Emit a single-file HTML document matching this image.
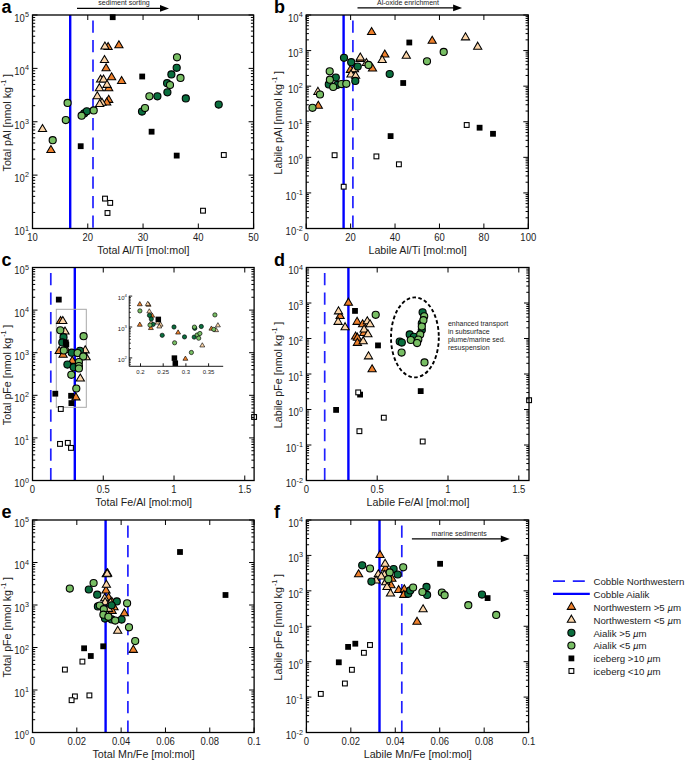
<!DOCTYPE html>
<html><head><meta charset="utf-8"><style>
html,body{margin:0;padding:0;background:#fff;}
svg{display:block;font-family:"Liberation Sans", sans-serif;}
text{fill:#1c1c1c;}
</style></head><body>
<svg width="685" height="760" viewBox="0 0 685 760">
<rect width="685" height="760" fill="#fff"/>
<line x1="70.2" y1="15" x2="70.2" y2="228.5" stroke="#0000FF" stroke-width="2.4"/>
<line x1="93.0" y1="20.4" x2="93.0" y2="228.5" stroke="#2020FF" stroke-width="1.7" stroke-dasharray="12.4 7.1"/>
<line x1="343.59999999999997" y1="15" x2="343.59999999999997" y2="228.5" stroke="#0000FF" stroke-width="2.4"/>
<line x1="352.9" y1="20.4" x2="352.9" y2="228.5" stroke="#2020FF" stroke-width="1.7" stroke-dasharray="12.4 7.1"/>
<line x1="74.80000000000001" y1="267.5" x2="74.80000000000001" y2="480.5" stroke="#0000FF" stroke-width="2.4"/>
<line x1="50.8" y1="272.9" x2="50.8" y2="480.5" stroke="#2020FF" stroke-width="1.7" stroke-dasharray="12.4 7.1"/>
<line x1="348.4" y1="267.5" x2="348.4" y2="480.5" stroke="#0000FF" stroke-width="2.4"/>
<line x1="324.7" y1="272.9" x2="324.7" y2="480.5" stroke="#2020FF" stroke-width="1.7" stroke-dasharray="12.4 7.1"/>
<line x1="105.60000000000001" y1="520" x2="105.60000000000001" y2="732.5" stroke="#0000FF" stroke-width="2.4"/>
<line x1="127.9" y1="525.4" x2="127.9" y2="732.5" stroke="#2020FF" stroke-width="1.7" stroke-dasharray="12.4 7.1"/>
<line x1="379.5" y1="520" x2="379.5" y2="732.5" stroke="#0000FF" stroke-width="2.4"/>
<line x1="401.8" y1="525.4" x2="401.8" y2="732.5" stroke="#2020FF" stroke-width="1.7" stroke-dasharray="12.4 7.1"/>
<rect x="56.3" y="309.3" width="30" height="98" fill="none" stroke="#A8A8A8" stroke-width="1"/>
<path d="M108.10 42.55L112.20 49.55L104.00 49.55Z" fill="#EE802C" stroke="#000" stroke-width="1.05" stroke-linejoin="miter"/>
<path d="M118.90 40.80L123.00 47.80L114.80 47.80Z" fill="#EE802C" stroke="#000" stroke-width="1.05" stroke-linejoin="miter"/>
<path d="M106.10 63.75L110.20 70.75L102.00 70.75Z" fill="#EE802C" stroke="#000" stroke-width="1.05" stroke-linejoin="miter"/>
<path d="M111.60 72.75L115.70 79.75L107.50 79.75Z" fill="#EE802C" stroke="#000" stroke-width="1.05" stroke-linejoin="miter"/>
<path d="M121.60 76.55L125.70 83.55L117.50 83.55Z" fill="#EE802C" stroke="#000" stroke-width="1.05" stroke-linejoin="miter"/>
<path d="M108.70 83.65L112.80 90.65L104.60 90.65Z" fill="#EE802C" stroke="#000" stroke-width="1.05" stroke-linejoin="miter"/>
<path d="M108.70 95.35L112.80 102.35L104.60 102.35Z" fill="#EE802C" stroke="#000" stroke-width="1.05" stroke-linejoin="miter"/>
<path d="M106.70 97.95L110.80 104.95L102.60 104.95Z" fill="#EE802C" stroke="#000" stroke-width="1.05" stroke-linejoin="miter"/>
<path d="M50.90 145.55L55.00 152.55L46.80 152.55Z" fill="#EE802C" stroke="#000" stroke-width="1.05" stroke-linejoin="miter"/>
<path d="M104.90 41.95L109.00 48.95L100.80 48.95Z" fill="#FCD5A8" stroke="#000" stroke-width="1.05" stroke-linejoin="miter"/>
<path d="M104.50 55.55L108.60 62.55L100.40 62.55Z" fill="#FCD5A8" stroke="#000" stroke-width="1.05" stroke-linejoin="miter"/>
<path d="M100.60 74.95L104.70 81.95L96.50 81.95Z" fill="#FCD5A8" stroke="#000" stroke-width="1.05" stroke-linejoin="miter"/>
<path d="M103.50 74.95L107.60 81.95L99.40 81.95Z" fill="#FCD5A8" stroke="#000" stroke-width="1.05" stroke-linejoin="miter"/>
<path d="M107.00 80.35L111.10 87.35L102.90 87.35Z" fill="#FCD5A8" stroke="#000" stroke-width="1.05" stroke-linejoin="miter"/>
<path d="M99.40 83.65L103.50 90.65L95.30 90.65Z" fill="#FCD5A8" stroke="#000" stroke-width="1.05" stroke-linejoin="miter"/>
<path d="M97.30 91.75L101.40 98.75L93.20 98.75Z" fill="#FCD5A8" stroke="#000" stroke-width="1.05" stroke-linejoin="miter"/>
<path d="M102.00 98.25L106.10 105.25L97.90 105.25Z" fill="#FCD5A8" stroke="#000" stroke-width="1.05" stroke-linejoin="miter"/>
<path d="M99.70 99.45L103.80 106.45L95.60 106.45Z" fill="#FCD5A8" stroke="#000" stroke-width="1.05" stroke-linejoin="miter"/>
<path d="M42.50 124.55L46.60 131.55L38.40 131.55Z" fill="#FCD5A8" stroke="#000" stroke-width="1.05" stroke-linejoin="miter"/>
<circle cx="176.70" cy="67.80" r="3.55" fill="#0A6E3E" stroke="#000" stroke-width="1.10"/>
<circle cx="171.40" cy="74.40" r="3.55" fill="#0A6E3E" stroke="#000" stroke-width="1.10"/>
<circle cx="167.10" cy="83.20" r="3.55" fill="#0A6E3E" stroke="#000" stroke-width="1.10"/>
<circle cx="167.40" cy="92.30" r="3.55" fill="#0A6E3E" stroke="#000" stroke-width="1.10"/>
<circle cx="157.40" cy="96.30" r="3.55" fill="#0A6E3E" stroke="#000" stroke-width="1.10"/>
<circle cx="185.80" cy="98.40" r="3.55" fill="#0A6E3E" stroke="#000" stroke-width="1.10"/>
<circle cx="218.70" cy="104.60" r="3.55" fill="#0A6E3E" stroke="#000" stroke-width="1.10"/>
<circle cx="142.00" cy="111.60" r="3.55" fill="#0A6E3E" stroke="#000" stroke-width="1.10"/>
<circle cx="84.20" cy="113.40" r="3.55" fill="#0A6E3E" stroke="#000" stroke-width="1.10"/>
<circle cx="86.80" cy="111.30" r="3.55" fill="#0A6E3E" stroke="#000" stroke-width="1.10"/>
<circle cx="177.00" cy="57.30" r="3.55" fill="#78BE64" stroke="#000" stroke-width="1.10"/>
<circle cx="180.50" cy="77.90" r="3.55" fill="#78BE64" stroke="#000" stroke-width="1.10"/>
<circle cx="170.00" cy="85.00" r="3.55" fill="#78BE64" stroke="#000" stroke-width="1.10"/>
<circle cx="149.40" cy="96.30" r="3.55" fill="#78BE64" stroke="#000" stroke-width="1.10"/>
<circle cx="145.00" cy="108.10" r="3.55" fill="#78BE64" stroke="#000" stroke-width="1.10"/>
<circle cx="67.60" cy="102.90" r="3.55" fill="#78BE64" stroke="#000" stroke-width="1.10"/>
<circle cx="65.80" cy="120.10" r="3.55" fill="#78BE64" stroke="#000" stroke-width="1.10"/>
<circle cx="81.60" cy="115.70" r="3.55" fill="#78BE64" stroke="#000" stroke-width="1.10"/>
<circle cx="93.70" cy="110.40" r="3.55" fill="#78BE64" stroke="#000" stroke-width="1.10"/>
<circle cx="52.70" cy="140.20" r="3.55" fill="#78BE64" stroke="#000" stroke-width="1.10"/>
<rect x="109.80" y="14.30" width="5.80" height="5.80" fill="#000"/>
<rect x="139.30" y="73.60" width="5.80" height="5.80" fill="#000"/>
<rect x="148.70" y="128.80" width="5.80" height="5.80" fill="#000"/>
<rect x="173.80" y="152.70" width="5.80" height="5.80" fill="#000"/>
<rect x="77.80" y="143.30" width="5.80" height="5.80" fill="#000"/>
<rect x="221.40" y="152.60" width="4.80" height="4.80" fill="#fff" stroke="#000" stroke-width="1.10"/>
<rect x="200.60" y="208.30" width="4.80" height="4.80" fill="#fff" stroke="#000" stroke-width="1.10"/>
<rect x="102.60" y="196.20" width="4.80" height="4.80" fill="#fff" stroke="#000" stroke-width="1.10"/>
<rect x="107.80" y="200.50" width="4.80" height="4.80" fill="#fff" stroke="#000" stroke-width="1.10"/>
<rect x="105.10" y="210.60" width="4.80" height="4.80" fill="#fff" stroke="#000" stroke-width="1.10"/>
<path d="M371.60 27.55L375.70 34.55L367.50 34.55Z" fill="#EE802C" stroke="#000" stroke-width="1.05" stroke-linejoin="miter"/>
<path d="M432.20 36.25L436.30 43.25L428.10 43.25Z" fill="#EE802C" stroke="#000" stroke-width="1.05" stroke-linejoin="miter"/>
<path d="M384.80 49.95L388.90 56.95L380.70 56.95Z" fill="#EE802C" stroke="#000" stroke-width="1.05" stroke-linejoin="miter"/>
<path d="M360.10 54.35L364.20 61.35L356.00 61.35Z" fill="#EE802C" stroke="#000" stroke-width="1.05" stroke-linejoin="miter"/>
<path d="M350.40 65.35L354.50 72.35L346.30 72.35Z" fill="#EE802C" stroke="#000" stroke-width="1.05" stroke-linejoin="miter"/>
<path d="M372.50 63.95L376.60 70.95L368.40 70.95Z" fill="#EE802C" stroke="#000" stroke-width="1.05" stroke-linejoin="miter"/>
<path d="M318.30 101.25L322.40 108.25L314.20 108.25Z" fill="#EE802C" stroke="#000" stroke-width="1.05" stroke-linejoin="miter"/>
<path d="M465.50 32.85L469.60 39.85L461.40 39.85Z" fill="#FCD5A8" stroke="#000" stroke-width="1.05" stroke-linejoin="miter"/>
<path d="M477.70 42.15L481.80 49.15L473.60 49.15Z" fill="#FCD5A8" stroke="#000" stroke-width="1.05" stroke-linejoin="miter"/>
<path d="M406.30 51.15L410.40 58.15L402.20 58.15Z" fill="#FCD5A8" stroke="#000" stroke-width="1.05" stroke-linejoin="miter"/>
<path d="M382.20 55.55L386.30 62.55L378.10 62.55Z" fill="#FCD5A8" stroke="#000" stroke-width="1.05" stroke-linejoin="miter"/>
<path d="M360.30 53.05L364.40 60.05L356.20 60.05Z" fill="#FCD5A8" stroke="#000" stroke-width="1.05" stroke-linejoin="miter"/>
<path d="M366.40 58.55L370.50 65.55L362.30 65.55Z" fill="#FCD5A8" stroke="#000" stroke-width="1.05" stroke-linejoin="miter"/>
<path d="M354.50 64.75L358.60 71.75L350.40 71.75Z" fill="#FCD5A8" stroke="#000" stroke-width="1.05" stroke-linejoin="miter"/>
<path d="M351.00 70.05L355.10 77.05L346.90 77.05Z" fill="#FCD5A8" stroke="#000" stroke-width="1.05" stroke-linejoin="miter"/>
<path d="M355.60 71.25L359.70 78.25L351.50 78.25Z" fill="#FCD5A8" stroke="#000" stroke-width="1.05" stroke-linejoin="miter"/>
<path d="M317.90 87.35L322.00 94.35L313.80 94.35Z" fill="#FCD5A8" stroke="#000" stroke-width="1.05" stroke-linejoin="miter"/>
<circle cx="344.00" cy="57.80" r="3.55" fill="#0A6E3E" stroke="#000" stroke-width="1.10"/>
<circle cx="351.20" cy="62.20" r="3.55" fill="#0A6E3E" stroke="#000" stroke-width="1.10"/>
<circle cx="357.70" cy="66.60" r="3.55" fill="#0A6E3E" stroke="#000" stroke-width="1.10"/>
<circle cx="355.30" cy="80.90" r="3.55" fill="#0A6E3E" stroke="#000" stroke-width="1.10"/>
<circle cx="335.80" cy="77.60" r="3.55" fill="#0A6E3E" stroke="#000" stroke-width="1.10"/>
<circle cx="328.80" cy="84.40" r="3.55" fill="#0A6E3E" stroke="#000" stroke-width="1.10"/>
<circle cx="337.00" cy="85.00" r="3.55" fill="#0A6E3E" stroke="#000" stroke-width="1.10"/>
<circle cx="389.70" cy="74.00" r="3.55" fill="#0A6E3E" stroke="#000" stroke-width="1.10"/>
<circle cx="329.70" cy="71.30" r="3.55" fill="#78BE64" stroke="#000" stroke-width="1.10"/>
<circle cx="329.90" cy="79.70" r="3.55" fill="#78BE64" stroke="#000" stroke-width="1.10"/>
<circle cx="333.20" cy="87.00" r="3.55" fill="#78BE64" stroke="#000" stroke-width="1.10"/>
<circle cx="341.40" cy="84.10" r="3.55" fill="#78BE64" stroke="#000" stroke-width="1.10"/>
<circle cx="346.30" cy="83.80" r="3.55" fill="#78BE64" stroke="#000" stroke-width="1.10"/>
<circle cx="320.00" cy="94.50" r="3.55" fill="#78BE64" stroke="#000" stroke-width="1.10"/>
<circle cx="312.50" cy="107.80" r="3.55" fill="#78BE64" stroke="#000" stroke-width="1.10"/>
<circle cx="368.50" cy="64.90" r="3.55" fill="#78BE64" stroke="#000" stroke-width="1.10"/>
<circle cx="443.70" cy="51.90" r="3.55" fill="#78BE64" stroke="#000" stroke-width="1.10"/>
<circle cx="427.00" cy="61.30" r="3.55" fill="#78BE64" stroke="#000" stroke-width="1.10"/>
<rect x="406.40" y="39.60" width="5.80" height="5.80" fill="#000"/>
<rect x="400.30" y="80.10" width="5.80" height="5.80" fill="#000"/>
<rect x="387.70" y="133.20" width="5.80" height="5.80" fill="#000"/>
<rect x="476.70" y="124.80" width="5.80" height="5.80" fill="#000"/>
<rect x="490.10" y="130.90" width="5.80" height="5.80" fill="#000"/>
<rect x="464.30" y="122.60" width="4.80" height="4.80" fill="#fff" stroke="#000" stroke-width="1.10"/>
<rect x="332.20" y="152.80" width="4.80" height="4.80" fill="#fff" stroke="#000" stroke-width="1.10"/>
<rect x="374.00" y="154.00" width="4.80" height="4.80" fill="#fff" stroke="#000" stroke-width="1.10"/>
<rect x="396.50" y="161.90" width="4.80" height="4.80" fill="#fff" stroke="#000" stroke-width="1.10"/>
<rect x="341.30" y="184.30" width="4.80" height="4.80" fill="#fff" stroke="#000" stroke-width="1.10"/>
<path d="M60.60 316.55L64.70 323.55L56.50 323.55Z" fill="#EE802C" stroke="#000" stroke-width="1.05" stroke-linejoin="miter"/>
<path d="M59.20 346.55L63.30 353.55L55.10 353.55Z" fill="#EE802C" stroke="#000" stroke-width="1.05" stroke-linejoin="miter"/>
<path d="M63.10 350.15L67.20 357.15L59.00 357.15Z" fill="#EE802C" stroke="#000" stroke-width="1.05" stroke-linejoin="miter"/>
<path d="M72.30 356.35L76.40 363.35L68.20 363.35Z" fill="#EE802C" stroke="#000" stroke-width="1.05" stroke-linejoin="miter"/>
<path d="M75.90 392.85L80.00 399.85L71.80 399.85Z" fill="#EE802C" stroke="#000" stroke-width="1.05" stroke-linejoin="miter"/>
<path d="M62.80 316.55L66.90 323.55L58.70 323.55Z" fill="#FCD5A8" stroke="#000" stroke-width="1.05" stroke-linejoin="miter"/>
<path d="M65.00 327.05L69.10 334.05L60.90 334.05Z" fill="#FCD5A8" stroke="#000" stroke-width="1.05" stroke-linejoin="miter"/>
<path d="M66.40 345.55L70.50 352.55L62.30 352.55Z" fill="#FCD5A8" stroke="#000" stroke-width="1.05" stroke-linejoin="miter"/>
<path d="M85.20 345.85L89.30 352.85L81.10 352.85Z" fill="#FCD5A8" stroke="#000" stroke-width="1.05" stroke-linejoin="miter"/>
<path d="M86.10 352.75L90.20 359.75L82.00 359.75Z" fill="#FCD5A8" stroke="#000" stroke-width="1.05" stroke-linejoin="miter"/>
<path d="M80.30 374.05L84.40 381.05L76.20 381.05Z" fill="#FCD5A8" stroke="#000" stroke-width="1.05" stroke-linejoin="miter"/>
<circle cx="63.50" cy="337.20" r="3.55" fill="#0A6E3E" stroke="#000" stroke-width="1.10"/>
<circle cx="62.30" cy="342.40" r="3.55" fill="#0A6E3E" stroke="#000" stroke-width="1.10"/>
<circle cx="79.90" cy="350.80" r="3.55" fill="#0A6E3E" stroke="#000" stroke-width="1.10"/>
<circle cx="71.70" cy="352.70" r="3.55" fill="#0A6E3E" stroke="#000" stroke-width="1.10"/>
<circle cx="67.40" cy="364.60" r="3.55" fill="#0A6E3E" stroke="#000" stroke-width="1.10"/>
<circle cx="73.70" cy="367.20" r="3.55" fill="#0A6E3E" stroke="#000" stroke-width="1.10"/>
<circle cx="60.30" cy="330.30" r="3.55" fill="#78BE64" stroke="#000" stroke-width="1.10"/>
<circle cx="63.80" cy="350.40" r="3.55" fill="#78BE64" stroke="#000" stroke-width="1.10"/>
<circle cx="77.60" cy="353.10" r="3.55" fill="#78BE64" stroke="#000" stroke-width="1.10"/>
<circle cx="83.20" cy="356.40" r="3.55" fill="#78BE64" stroke="#000" stroke-width="1.10"/>
<circle cx="83.60" cy="336.20" r="3.55" fill="#78BE64" stroke="#000" stroke-width="1.10"/>
<circle cx="78.90" cy="362.00" r="3.55" fill="#78BE64" stroke="#000" stroke-width="1.10"/>
<circle cx="78.90" cy="366.00" r="3.55" fill="#78BE64" stroke="#000" stroke-width="1.10"/>
<circle cx="78.90" cy="368.50" r="3.55" fill="#78BE64" stroke="#000" stroke-width="1.10"/>
<circle cx="71.30" cy="374.80" r="3.55" fill="#78BE64" stroke="#000" stroke-width="1.10"/>
<circle cx="76.30" cy="388.50" r="3.55" fill="#78BE64" stroke="#000" stroke-width="1.10"/>
<rect x="55.90" y="296.70" width="5.80" height="5.80" fill="#000"/>
<rect x="62.90" y="339.50" width="5.80" height="5.80" fill="#000"/>
<rect x="63.40" y="341.60" width="5.80" height="5.80" fill="#000"/>
<rect x="52.40" y="390.80" width="5.80" height="5.80" fill="#000"/>
<rect x="68.20" y="392.90" width="5.80" height="5.80" fill="#000"/>
<rect x="68.50" y="400.20" width="5.80" height="5.80" fill="#000"/>
<rect x="58.40" y="406.60" width="4.80" height="4.80" fill="#fff" stroke="#000" stroke-width="1.10"/>
<rect x="57.60" y="441.50" width="4.80" height="4.80" fill="#fff" stroke="#000" stroke-width="1.10"/>
<rect x="65.40" y="440.50" width="4.80" height="4.80" fill="#fff" stroke="#000" stroke-width="1.10"/>
<rect x="68.60" y="445.50" width="4.80" height="4.80" fill="#fff" stroke="#000" stroke-width="1.10"/>
<rect x="251.70" y="414.60" width="4.80" height="4.80" fill="#fff" stroke="#000" stroke-width="1.10"/>
<path d="M348.40 298.15L352.50 305.15L344.30 305.15Z" fill="#EE802C" stroke="#000" stroke-width="1.05" stroke-linejoin="miter"/>
<path d="M340.10 311.55L344.20 318.55L336.00 318.55Z" fill="#EE802C" stroke="#000" stroke-width="1.05" stroke-linejoin="miter"/>
<path d="M357.10 317.35L361.20 324.35L353.00 324.35Z" fill="#EE802C" stroke="#000" stroke-width="1.05" stroke-linejoin="miter"/>
<path d="M362.60 319.75L366.70 326.75L358.50 326.75Z" fill="#EE802C" stroke="#000" stroke-width="1.05" stroke-linejoin="miter"/>
<path d="M363.80 328.45L367.90 335.45L359.70 335.45Z" fill="#EE802C" stroke="#000" stroke-width="1.05" stroke-linejoin="miter"/>
<path d="M355.60 331.95L359.70 338.95L351.50 338.95Z" fill="#EE802C" stroke="#000" stroke-width="1.05" stroke-linejoin="miter"/>
<path d="M357.40 333.15L361.50 340.15L353.30 340.15Z" fill="#EE802C" stroke="#000" stroke-width="1.05" stroke-linejoin="miter"/>
<path d="M357.40 338.35L361.50 345.35L353.30 345.35Z" fill="#EE802C" stroke="#000" stroke-width="1.05" stroke-linejoin="miter"/>
<path d="M372.10 364.75L376.20 371.75L368.00 371.75Z" fill="#EE802C" stroke="#000" stroke-width="1.05" stroke-linejoin="miter"/>
<path d="M338.50 306.85L342.60 313.85L334.40 313.85Z" fill="#FCD5A8" stroke="#000" stroke-width="1.05" stroke-linejoin="miter"/>
<path d="M338.10 317.35L342.20 324.35L334.00 324.35Z" fill="#FCD5A8" stroke="#000" stroke-width="1.05" stroke-linejoin="miter"/>
<path d="M345.10 322.65L349.20 329.65L341.00 329.65Z" fill="#FCD5A8" stroke="#000" stroke-width="1.05" stroke-linejoin="miter"/>
<path d="M367.30 316.75L371.40 323.75L363.20 323.75Z" fill="#FCD5A8" stroke="#000" stroke-width="1.05" stroke-linejoin="miter"/>
<path d="M370.00 319.75L374.10 326.75L365.90 326.75Z" fill="#FCD5A8" stroke="#000" stroke-width="1.05" stroke-linejoin="miter"/>
<path d="M364.10 324.95L368.20 331.95L360.00 331.95Z" fill="#FCD5A8" stroke="#000" stroke-width="1.05" stroke-linejoin="miter"/>
<path d="M367.90 329.65L372.00 336.65L363.80 336.65Z" fill="#FCD5A8" stroke="#000" stroke-width="1.05" stroke-linejoin="miter"/>
<path d="M363.20 336.65L367.30 343.65L359.10 343.65Z" fill="#FCD5A8" stroke="#000" stroke-width="1.05" stroke-linejoin="miter"/>
<path d="M368.50 351.85L372.60 358.85L364.40 358.85Z" fill="#FCD5A8" stroke="#000" stroke-width="1.05" stroke-linejoin="miter"/>
<circle cx="422.60" cy="312.30" r="3.55" fill="#0A6E3E" stroke="#000" stroke-width="1.10"/>
<circle cx="421.80" cy="323.40" r="3.55" fill="#0A6E3E" stroke="#000" stroke-width="1.10"/>
<circle cx="421.80" cy="330.00" r="3.55" fill="#0A6E3E" stroke="#000" stroke-width="1.10"/>
<circle cx="409.70" cy="334.40" r="3.55" fill="#0A6E3E" stroke="#000" stroke-width="1.10"/>
<circle cx="413.90" cy="336.80" r="3.55" fill="#0A6E3E" stroke="#000" stroke-width="1.10"/>
<circle cx="399.70" cy="341.50" r="3.55" fill="#0A6E3E" stroke="#000" stroke-width="1.10"/>
<circle cx="401.80" cy="342.60" r="3.55" fill="#0A6E3E" stroke="#000" stroke-width="1.10"/>
<circle cx="375.70" cy="314.80" r="3.55" fill="#78BE64" stroke="#000" stroke-width="1.10"/>
<circle cx="424.20" cy="316.30" r="3.55" fill="#78BE64" stroke="#000" stroke-width="1.10"/>
<circle cx="423.40" cy="320.20" r="3.55" fill="#78BE64" stroke="#000" stroke-width="1.10"/>
<circle cx="421.80" cy="326.50" r="3.55" fill="#78BE64" stroke="#000" stroke-width="1.10"/>
<circle cx="420.20" cy="334.40" r="3.55" fill="#78BE64" stroke="#000" stroke-width="1.10"/>
<circle cx="410.80" cy="340.00" r="3.55" fill="#78BE64" stroke="#000" stroke-width="1.10"/>
<circle cx="418.30" cy="339.50" r="3.55" fill="#78BE64" stroke="#000" stroke-width="1.10"/>
<circle cx="417.10" cy="343.10" r="3.55" fill="#78BE64" stroke="#000" stroke-width="1.10"/>
<circle cx="401.60" cy="352.60" r="3.55" fill="#78BE64" stroke="#000" stroke-width="1.10"/>
<circle cx="424.50" cy="362.40" r="3.55" fill="#78BE64" stroke="#000" stroke-width="1.10"/>
<rect x="352.10" y="308.00" width="5.80" height="5.80" fill="#000"/>
<rect x="375.10" y="342.50" width="5.80" height="5.80" fill="#000"/>
<rect x="357.20" y="391.70" width="5.80" height="5.80" fill="#000"/>
<rect x="333.20" y="407.00" width="5.80" height="5.80" fill="#000"/>
<rect x="417.80" y="388.20" width="5.80" height="5.80" fill="#000"/>
<rect x="355.80" y="390.00" width="4.80" height="4.80" fill="#fff" stroke="#000" stroke-width="1.10"/>
<rect x="381.40" y="415.30" width="4.80" height="4.80" fill="#fff" stroke="#000" stroke-width="1.10"/>
<rect x="357.00" y="428.80" width="4.80" height="4.80" fill="#fff" stroke="#000" stroke-width="1.10"/>
<rect x="420.30" y="439.10" width="4.80" height="4.80" fill="#fff" stroke="#000" stroke-width="1.10"/>
<rect x="526.70" y="397.80" width="4.80" height="4.80" fill="#fff" stroke="#000" stroke-width="1.10"/>
<path d="M106.60 569.75L110.70 576.75L102.50 576.75Z" fill="#EE802C" stroke="#000" stroke-width="1.05" stroke-linejoin="miter"/>
<path d="M106.00 585.95L110.10 592.95L101.90 592.95Z" fill="#EE802C" stroke="#000" stroke-width="1.05" stroke-linejoin="miter"/>
<path d="M108.60 592.95L112.70 599.95L104.50 599.95Z" fill="#EE802C" stroke="#000" stroke-width="1.05" stroke-linejoin="miter"/>
<path d="M111.80 597.35L115.90 604.35L107.70 604.35Z" fill="#EE802C" stroke="#000" stroke-width="1.05" stroke-linejoin="miter"/>
<path d="M114.00 602.75L118.10 609.75L109.90 609.75Z" fill="#EE802C" stroke="#000" stroke-width="1.05" stroke-linejoin="miter"/>
<path d="M112.10 606.35L116.20 613.35L108.00 613.35Z" fill="#EE802C" stroke="#000" stroke-width="1.05" stroke-linejoin="miter"/>
<path d="M124.40 608.75L128.50 615.75L120.30 615.75Z" fill="#EE802C" stroke="#000" stroke-width="1.05" stroke-linejoin="miter"/>
<path d="M133.30 645.35L137.40 652.35L129.20 652.35Z" fill="#EE802C" stroke="#000" stroke-width="1.05" stroke-linejoin="miter"/>
<path d="M107.60 568.85L111.70 575.85L103.50 575.85Z" fill="#FCD5A8" stroke="#000" stroke-width="1.05" stroke-linejoin="miter"/>
<path d="M106.40 569.45L110.50 576.45L102.30 576.45Z" fill="#FCD5A8" stroke="#000" stroke-width="1.05" stroke-linejoin="miter"/>
<path d="M107.20 569.15L111.30 576.15L103.10 576.15Z" fill="#FCD5A8" stroke="#000" stroke-width="1.05" stroke-linejoin="miter"/>
<path d="M106.40 580.25L110.50 587.25L102.30 587.25Z" fill="#FCD5A8" stroke="#000" stroke-width="1.05" stroke-linejoin="miter"/>
<path d="M104.70 593.75L108.80 600.75L100.60 600.75Z" fill="#FCD5A8" stroke="#000" stroke-width="1.05" stroke-linejoin="miter"/>
<path d="M105.10 597.65L109.20 604.65L101.00 604.65Z" fill="#FCD5A8" stroke="#000" stroke-width="1.05" stroke-linejoin="miter"/>
<path d="M110.50 598.25L114.60 605.25L106.40 605.25Z" fill="#FCD5A8" stroke="#000" stroke-width="1.05" stroke-linejoin="miter"/>
<path d="M108.50 604.35L112.60 611.35L104.40 611.35Z" fill="#FCD5A8" stroke="#000" stroke-width="1.05" stroke-linejoin="miter"/>
<path d="M117.70 626.25L121.80 633.25L113.60 633.25Z" fill="#FCD5A8" stroke="#000" stroke-width="1.05" stroke-linejoin="miter"/>
<circle cx="88.80" cy="589.50" r="3.55" fill="#0A6E3E" stroke="#000" stroke-width="1.10"/>
<circle cx="97.20" cy="594.70" r="3.55" fill="#0A6E3E" stroke="#000" stroke-width="1.10"/>
<circle cx="116.80" cy="601.40" r="3.55" fill="#0A6E3E" stroke="#000" stroke-width="1.10"/>
<circle cx="97.90" cy="606.40" r="3.55" fill="#0A6E3E" stroke="#000" stroke-width="1.10"/>
<circle cx="111.60" cy="605.30" r="3.55" fill="#0A6E3E" stroke="#000" stroke-width="1.10"/>
<circle cx="105.00" cy="618.60" r="3.55" fill="#0A6E3E" stroke="#000" stroke-width="1.10"/>
<circle cx="111.70" cy="619.40" r="3.55" fill="#0A6E3E" stroke="#000" stroke-width="1.10"/>
<circle cx="121.60" cy="619.60" r="3.55" fill="#0A6E3E" stroke="#000" stroke-width="1.10"/>
<circle cx="93.60" cy="583.00" r="3.55" fill="#78BE64" stroke="#000" stroke-width="1.10"/>
<circle cx="69.80" cy="588.60" r="3.55" fill="#78BE64" stroke="#000" stroke-width="1.10"/>
<circle cx="99.80" cy="605.60" r="3.55" fill="#78BE64" stroke="#000" stroke-width="1.10"/>
<circle cx="103.80" cy="609.20" r="3.55" fill="#78BE64" stroke="#000" stroke-width="1.10"/>
<circle cx="103.40" cy="614.70" r="3.55" fill="#78BE64" stroke="#000" stroke-width="1.10"/>
<circle cx="108.40" cy="616.70" r="3.55" fill="#78BE64" stroke="#000" stroke-width="1.10"/>
<circle cx="115.20" cy="620.60" r="3.55" fill="#78BE64" stroke="#000" stroke-width="1.10"/>
<circle cx="127.10" cy="603.30" r="3.55" fill="#78BE64" stroke="#000" stroke-width="1.10"/>
<circle cx="129.00" cy="627.30" r="3.55" fill="#78BE64" stroke="#000" stroke-width="1.10"/>
<circle cx="135.20" cy="641.10" r="3.55" fill="#78BE64" stroke="#000" stroke-width="1.10"/>
<rect x="81.20" y="645.40" width="5.80" height="5.80" fill="#000"/>
<rect x="87.90" y="653.10" width="5.80" height="5.80" fill="#000"/>
<rect x="100.30" y="643.40" width="5.80" height="5.80" fill="#000"/>
<rect x="177.10" y="549.10" width="5.80" height="5.80" fill="#000"/>
<rect x="222.60" y="592.10" width="5.80" height="5.80" fill="#000"/>
<rect x="80.00" y="659.20" width="4.80" height="4.80" fill="#fff" stroke="#000" stroke-width="1.10"/>
<rect x="62.50" y="667.20" width="4.80" height="4.80" fill="#fff" stroke="#000" stroke-width="1.10"/>
<rect x="72.50" y="694.00" width="4.80" height="4.80" fill="#fff" stroke="#000" stroke-width="1.10"/>
<rect x="69.20" y="697.80" width="4.80" height="4.80" fill="#fff" stroke="#000" stroke-width="1.10"/>
<rect x="87.00" y="693.00" width="4.80" height="4.80" fill="#fff" stroke="#000" stroke-width="1.10"/>
<path d="M380.00 550.55L384.10 557.55L375.90 557.55Z" fill="#EE802C" stroke="#000" stroke-width="1.05" stroke-linejoin="miter"/>
<path d="M385.50 564.05L389.60 571.05L381.40 571.05Z" fill="#EE802C" stroke="#000" stroke-width="1.05" stroke-linejoin="miter"/>
<path d="M358.60 569.75L362.70 576.75L354.50 576.75Z" fill="#EE802C" stroke="#000" stroke-width="1.05" stroke-linejoin="miter"/>
<path d="M391.90 574.15L396.00 581.15L387.80 581.15Z" fill="#EE802C" stroke="#000" stroke-width="1.05" stroke-linejoin="miter"/>
<path d="M391.00 580.75L395.10 587.75L386.90 587.75Z" fill="#EE802C" stroke="#000" stroke-width="1.05" stroke-linejoin="miter"/>
<path d="M398.60 585.45L402.70 592.45L394.50 592.45Z" fill="#EE802C" stroke="#000" stroke-width="1.05" stroke-linejoin="miter"/>
<path d="M404.30 584.75L408.40 591.75L400.20 591.75Z" fill="#EE802C" stroke="#000" stroke-width="1.05" stroke-linejoin="miter"/>
<path d="M403.80 590.35L407.90 597.35L399.70 597.35Z" fill="#EE802C" stroke="#000" stroke-width="1.05" stroke-linejoin="miter"/>
<path d="M417.00 617.25L421.10 624.25L412.90 624.25Z" fill="#EE802C" stroke="#000" stroke-width="1.05" stroke-linejoin="miter"/>
<path d="M385.10 559.25L389.20 566.25L381.00 566.25Z" fill="#FCD5A8" stroke="#000" stroke-width="1.05" stroke-linejoin="miter"/>
<path d="M378.30 569.75L382.40 576.75L374.20 576.75Z" fill="#FCD5A8" stroke="#000" stroke-width="1.05" stroke-linejoin="miter"/>
<path d="M384.40 570.25L388.50 577.25L380.30 577.25Z" fill="#FCD5A8" stroke="#000" stroke-width="1.05" stroke-linejoin="miter"/>
<path d="M381.30 571.95L385.40 578.95L377.20 578.95Z" fill="#FCD5A8" stroke="#000" stroke-width="1.05" stroke-linejoin="miter"/>
<path d="M376.10 575.95L380.20 582.95L372.00 582.95Z" fill="#FCD5A8" stroke="#000" stroke-width="1.05" stroke-linejoin="miter"/>
<path d="M385.70 577.65L389.80 584.65L381.60 584.65Z" fill="#FCD5A8" stroke="#000" stroke-width="1.05" stroke-linejoin="miter"/>
<path d="M387.00 582.45L391.10 589.45L382.90 589.45Z" fill="#FCD5A8" stroke="#000" stroke-width="1.05" stroke-linejoin="miter"/>
<path d="M390.50 589.05L394.60 596.05L386.40 596.05Z" fill="#FCD5A8" stroke="#000" stroke-width="1.05" stroke-linejoin="miter"/>
<path d="M423.10 604.75L427.20 611.75L419.00 611.75Z" fill="#FCD5A8" stroke="#000" stroke-width="1.05" stroke-linejoin="miter"/>
<circle cx="362.20" cy="565.30" r="3.55" fill="#0A6E3E" stroke="#000" stroke-width="1.10"/>
<circle cx="393.60" cy="569.10" r="3.55" fill="#0A6E3E" stroke="#000" stroke-width="1.10"/>
<circle cx="397.70" cy="574.50" r="3.55" fill="#0A6E3E" stroke="#000" stroke-width="1.10"/>
<circle cx="371.40" cy="581.60" r="3.55" fill="#0A6E3E" stroke="#000" stroke-width="1.10"/>
<circle cx="408.30" cy="593.80" r="3.55" fill="#0A6E3E" stroke="#000" stroke-width="1.10"/>
<circle cx="410.20" cy="590.40" r="3.55" fill="#0A6E3E" stroke="#000" stroke-width="1.10"/>
<circle cx="426.50" cy="586.90" r="3.55" fill="#0A6E3E" stroke="#000" stroke-width="1.10"/>
<circle cx="427.10" cy="594.90" r="3.55" fill="#0A6E3E" stroke="#000" stroke-width="1.10"/>
<circle cx="482.00" cy="594.60" r="3.55" fill="#0A6E3E" stroke="#000" stroke-width="1.10"/>
<circle cx="370.00" cy="568.50" r="3.55" fill="#78BE64" stroke="#000" stroke-width="1.10"/>
<circle cx="403.20" cy="567.30" r="3.55" fill="#78BE64" stroke="#000" stroke-width="1.10"/>
<circle cx="389.70" cy="572.40" r="3.55" fill="#78BE64" stroke="#000" stroke-width="1.10"/>
<circle cx="388.30" cy="579.20" r="3.55" fill="#78BE64" stroke="#000" stroke-width="1.10"/>
<circle cx="413.10" cy="587.50" r="3.55" fill="#78BE64" stroke="#000" stroke-width="1.10"/>
<circle cx="422.40" cy="592.00" r="3.55" fill="#78BE64" stroke="#000" stroke-width="1.10"/>
<circle cx="441.90" cy="592.50" r="3.55" fill="#78BE64" stroke="#000" stroke-width="1.10"/>
<circle cx="444.60" cy="595.20" r="3.55" fill="#78BE64" stroke="#000" stroke-width="1.10"/>
<circle cx="468.30" cy="605.20" r="3.55" fill="#78BE64" stroke="#000" stroke-width="1.10"/>
<circle cx="496.20" cy="614.90" r="3.55" fill="#78BE64" stroke="#000" stroke-width="1.10"/>
<rect x="484.70" y="595.20" width="5.80" height="5.80" fill="#000"/>
<rect x="437.20" y="560.90" width="5.80" height="5.80" fill="#000"/>
<rect x="352.40" y="640.80" width="5.80" height="5.80" fill="#000"/>
<rect x="345.20" y="644.00" width="5.80" height="5.80" fill="#000"/>
<rect x="335.90" y="659.40" width="5.80" height="5.80" fill="#000"/>
<rect x="367.60" y="642.60" width="4.80" height="4.80" fill="#fff" stroke="#000" stroke-width="1.10"/>
<rect x="361.50" y="650.40" width="4.80" height="4.80" fill="#fff" stroke="#000" stroke-width="1.10"/>
<rect x="349.50" y="667.40" width="4.80" height="4.80" fill="#fff" stroke="#000" stroke-width="1.10"/>
<rect x="342.50" y="681.10" width="4.80" height="4.80" fill="#fff" stroke="#000" stroke-width="1.10"/>
<rect x="318.40" y="691.50" width="4.80" height="4.80" fill="#fff" stroke="#000" stroke-width="1.10"/>
<path d="M32.5 228.50h5M253.6 228.50h-5M32.5 212.43h2.7M253.6 212.43h-2.7M32.5 203.03h2.7M253.6 203.03h-2.7M32.5 196.37h2.7M253.6 196.37h-2.7M32.5 191.19h2.7M253.6 191.19h-2.7M32.5 186.97h2.7M253.6 186.97h-2.7M32.5 183.39h2.7M253.6 183.39h-2.7M32.5 180.30h2.7M253.6 180.30h-2.7M32.5 177.57h2.7M253.6 177.57h-2.7M32.5 175.12h5M253.6 175.12h-5M32.5 159.06h2.7M253.6 159.06h-2.7M32.5 149.66h2.7M253.6 149.66h-2.7M32.5 142.99h2.7M253.6 142.99h-2.7M32.5 137.82h2.7M253.6 137.82h-2.7M32.5 133.59h2.7M253.6 133.59h-2.7M32.5 130.02h2.7M253.6 130.02h-2.7M32.5 126.92h2.7M253.6 126.92h-2.7M32.5 124.19h2.7M253.6 124.19h-2.7M32.5 121.75h5M253.6 121.75h-5M32.5 105.68h2.7M253.6 105.68h-2.7M32.5 96.28h2.7M253.6 96.28h-2.7M32.5 89.62h2.7M253.6 89.62h-2.7M32.5 84.44h2.7M253.6 84.44h-2.7M32.5 80.22h2.7M253.6 80.22h-2.7M32.5 76.64h2.7M253.6 76.64h-2.7M32.5 73.55h2.7M253.6 73.55h-2.7M32.5 70.82h2.7M253.6 70.82h-2.7M32.5 68.38h5M253.6 68.38h-5M32.5 52.31h2.7M253.6 52.31h-2.7M32.5 42.91h2.7M253.6 42.91h-2.7M32.5 36.24h2.7M253.6 36.24h-2.7M32.5 31.07h2.7M253.6 31.07h-2.7M32.5 26.84h2.7M253.6 26.84h-2.7M32.5 23.27h2.7M253.6 23.27h-2.7M32.5 20.17h2.7M253.6 20.17h-2.7M32.5 17.44h2.7M253.6 17.44h-2.7M32.5 15.00h5M253.6 15.00h-5M32.50 228.5v-5M32.50 15v5M87.78 228.5v-5M87.78 15v5M143.05 228.5v-5M143.05 15v5M198.32 228.5v-5M198.32 15v5M253.60 228.5v-5M253.60 15v5" stroke="#000" stroke-width="1" fill="none"/>
<rect x="32.5" y="15" width="221.10" height="213.50" fill="none" stroke="#000" stroke-width="1.3"/>
<text transform="translate(29.10 235.40) scale(0.95 1)" text-anchor="end" font-size="10">10<tspan dx="0.2" dy="-4.9" font-size="7.6">1</tspan></text>
<text transform="translate(29.10 182.03) scale(0.95 1)" text-anchor="end" font-size="10">10<tspan dx="0.2" dy="-4.9" font-size="7.6">2</tspan></text>
<text transform="translate(29.10 128.65) scale(0.95 1)" text-anchor="end" font-size="10">10<tspan dx="0.2" dy="-4.9" font-size="7.6">3</tspan></text>
<text transform="translate(29.10 75.28) scale(0.95 1)" text-anchor="end" font-size="10">10<tspan dx="0.2" dy="-4.9" font-size="7.6">4</tspan></text>
<text transform="translate(29.10 21.90) scale(0.95 1)" text-anchor="end" font-size="10">10<tspan dx="0.2" dy="-4.9" font-size="7.6">5</tspan></text>
<text transform="translate(32.50 240.80) scale(0.95 1)" text-anchor="middle" font-size="10">10</text>
<text transform="translate(87.78 240.80) scale(0.95 1)" text-anchor="middle" font-size="10">20</text>
<text transform="translate(143.05 240.80) scale(0.95 1)" text-anchor="middle" font-size="10">30</text>
<text transform="translate(198.32 240.80) scale(0.95 1)" text-anchor="middle" font-size="10">40</text>
<text transform="translate(253.60 240.80) scale(0.95 1)" text-anchor="middle" font-size="10">50</text>
<text x="143.35" y="253.60" text-anchor="middle" font-size="10.7">Total Al/Ti [mol:mol]</text>
<text transform="translate(11 122.75) rotate(-90)" text-anchor="middle" font-size="10.7">Total pAl [nmol kg<tspan dx="1" dy="-4.8" font-size="7.2">-1</tspan><tspan dx="2.6" dy="4.8">]</tspan></text>
<text x="1.4" y="13.30" font-size="18" font-weight="bold" style="fill:#000">a</text>
<path d="M306.2 228.50h5M528.3 228.50h-5M306.2 217.79h2.7M528.3 217.79h-2.7M306.2 211.52h2.7M528.3 211.52h-2.7M306.2 207.08h2.7M528.3 207.08h-2.7M306.2 203.63h2.7M528.3 203.63h-2.7M306.2 200.81h2.7M528.3 200.81h-2.7M306.2 198.43h2.7M528.3 198.43h-2.7M306.2 196.37h2.7M528.3 196.37h-2.7M306.2 194.54h2.7M528.3 194.54h-2.7M306.2 192.92h5M528.3 192.92h-5M306.2 182.21h2.7M528.3 182.21h-2.7M306.2 175.94h2.7M528.3 175.94h-2.7M306.2 171.49h2.7M528.3 171.49h-2.7M306.2 168.04h2.7M528.3 168.04h-2.7M306.2 165.23h2.7M528.3 165.23h-2.7M306.2 162.85h2.7M528.3 162.85h-2.7M306.2 160.78h2.7M528.3 160.78h-2.7M306.2 158.96h2.7M528.3 158.96h-2.7M306.2 157.33h5M528.3 157.33h-5M306.2 146.62h2.7M528.3 146.62h-2.7M306.2 140.36h2.7M528.3 140.36h-2.7M306.2 135.91h2.7M528.3 135.91h-2.7M306.2 132.46h2.7M528.3 132.46h-2.7M306.2 129.64h2.7M528.3 129.64h-2.7M306.2 127.26h2.7M528.3 127.26h-2.7M306.2 125.20h2.7M528.3 125.20h-2.7M306.2 123.38h2.7M528.3 123.38h-2.7M306.2 121.75h5M528.3 121.75h-5M306.2 111.04h2.7M528.3 111.04h-2.7M306.2 104.77h2.7M528.3 104.77h-2.7M306.2 100.33h2.7M528.3 100.33h-2.7M306.2 96.88h2.7M528.3 96.88h-2.7M306.2 94.06h2.7M528.3 94.06h-2.7M306.2 91.68h2.7M528.3 91.68h-2.7M306.2 89.62h2.7M528.3 89.62h-2.7M306.2 87.79h2.7M528.3 87.79h-2.7M306.2 86.17h5M528.3 86.17h-5M306.2 75.46h2.7M528.3 75.46h-2.7M306.2 69.19h2.7M528.3 69.19h-2.7M306.2 64.74h2.7M528.3 64.74h-2.7M306.2 61.29h2.7M528.3 61.29h-2.7M306.2 58.48h2.7M528.3 58.48h-2.7M306.2 56.10h2.7M528.3 56.10h-2.7M306.2 54.03h2.7M528.3 54.03h-2.7M306.2 52.21h2.7M528.3 52.21h-2.7M306.2 50.58h5M528.3 50.58h-5M306.2 39.87h2.7M528.3 39.87h-2.7M306.2 33.61h2.7M528.3 33.61h-2.7M306.2 29.16h2.7M528.3 29.16h-2.7M306.2 25.71h2.7M528.3 25.71h-2.7M306.2 22.89h2.7M528.3 22.89h-2.7M306.2 20.51h2.7M528.3 20.51h-2.7M306.2 18.45h2.7M528.3 18.45h-2.7M306.2 16.63h2.7M528.3 16.63h-2.7M306.2 15.00h5M528.3 15.00h-5M306.20 228.5v-5M306.20 15v5M350.62 228.5v-5M350.62 15v5M395.04 228.5v-5M395.04 15v5M439.46 228.5v-5M439.46 15v5M483.88 228.5v-5M483.88 15v5M528.30 228.5v-5M528.30 15v5" stroke="#000" stroke-width="1" fill="none"/>
<rect x="306.2" y="15" width="222.10" height="213.50" fill="none" stroke="#000" stroke-width="1.3"/>
<text transform="translate(302.80 235.40) scale(0.95 1)" text-anchor="end" font-size="10">10<tspan dx="0.2" dy="-4.9" font-size="7.6">-2</tspan></text>
<text transform="translate(302.80 199.82) scale(0.95 1)" text-anchor="end" font-size="10">10<tspan dx="0.2" dy="-4.9" font-size="7.6">-1</tspan></text>
<text transform="translate(302.80 164.23) scale(0.95 1)" text-anchor="end" font-size="10">10<tspan dx="0.2" dy="-4.9" font-size="7.6">0</tspan></text>
<text transform="translate(302.80 128.65) scale(0.95 1)" text-anchor="end" font-size="10">10<tspan dx="0.2" dy="-4.9" font-size="7.6">1</tspan></text>
<text transform="translate(302.80 93.07) scale(0.95 1)" text-anchor="end" font-size="10">10<tspan dx="0.2" dy="-4.9" font-size="7.6">2</tspan></text>
<text transform="translate(302.80 57.48) scale(0.95 1)" text-anchor="end" font-size="10">10<tspan dx="0.2" dy="-4.9" font-size="7.6">3</tspan></text>
<text transform="translate(302.80 21.90) scale(0.95 1)" text-anchor="end" font-size="10">10<tspan dx="0.2" dy="-4.9" font-size="7.6">4</tspan></text>
<text transform="translate(306.20 240.80) scale(0.95 1)" text-anchor="middle" font-size="10">0</text>
<text transform="translate(350.62 240.80) scale(0.95 1)" text-anchor="middle" font-size="10">20</text>
<text transform="translate(395.04 240.80) scale(0.95 1)" text-anchor="middle" font-size="10">40</text>
<text transform="translate(439.46 240.80) scale(0.95 1)" text-anchor="middle" font-size="10">60</text>
<text transform="translate(483.88 240.80) scale(0.95 1)" text-anchor="middle" font-size="10">80</text>
<text transform="translate(528.30 240.80) scale(0.95 1)" text-anchor="middle" font-size="10">100</text>
<text x="417.55" y="253.60" text-anchor="middle" font-size="10.7">Labile Al/Ti [mol:mol]</text>
<text transform="translate(282 122.75) rotate(-90)" text-anchor="middle" font-size="10.7">Labile pAl [nmol kg<tspan dx="1" dy="-4.8" font-size="7.2">-1</tspan><tspan dx="2.6" dy="4.8">]</tspan></text>
<text x="274.0" y="13.30" font-size="18" font-weight="bold" style="fill:#000">b</text>
<path d="M32.5 480.50h5M254.1 480.50h-5M32.5 467.68h2.7M254.1 467.68h-2.7M32.5 460.17h2.7M254.1 460.17h-2.7M32.5 454.85h2.7M254.1 454.85h-2.7M32.5 450.72h2.7M254.1 450.72h-2.7M32.5 447.35h2.7M254.1 447.35h-2.7M32.5 444.50h2.7M254.1 444.50h-2.7M32.5 442.03h2.7M254.1 442.03h-2.7M32.5 439.85h2.7M254.1 439.85h-2.7M32.5 437.90h5M254.1 437.90h-5M32.5 425.08h2.7M254.1 425.08h-2.7M32.5 417.57h2.7M254.1 417.57h-2.7M32.5 412.25h2.7M254.1 412.25h-2.7M32.5 408.12h2.7M254.1 408.12h-2.7M32.5 404.75h2.7M254.1 404.75h-2.7M32.5 401.90h2.7M254.1 401.90h-2.7M32.5 399.43h2.7M254.1 399.43h-2.7M32.5 397.25h2.7M254.1 397.25h-2.7M32.5 395.30h5M254.1 395.30h-5M32.5 382.48h2.7M254.1 382.48h-2.7M32.5 374.97h2.7M254.1 374.97h-2.7M32.5 369.65h2.7M254.1 369.65h-2.7M32.5 365.52h2.7M254.1 365.52h-2.7M32.5 362.15h2.7M254.1 362.15h-2.7M32.5 359.30h2.7M254.1 359.30h-2.7M32.5 356.83h2.7M254.1 356.83h-2.7M32.5 354.65h2.7M254.1 354.65h-2.7M32.5 352.70h5M254.1 352.70h-5M32.5 339.88h2.7M254.1 339.88h-2.7M32.5 332.37h2.7M254.1 332.37h-2.7M32.5 327.05h2.7M254.1 327.05h-2.7M32.5 322.92h2.7M254.1 322.92h-2.7M32.5 319.55h2.7M254.1 319.55h-2.7M32.5 316.70h2.7M254.1 316.70h-2.7M32.5 314.23h2.7M254.1 314.23h-2.7M32.5 312.05h2.7M254.1 312.05h-2.7M32.5 310.10h5M254.1 310.10h-5M32.5 297.28h2.7M254.1 297.28h-2.7M32.5 289.77h2.7M254.1 289.77h-2.7M32.5 284.45h2.7M254.1 284.45h-2.7M32.5 280.32h2.7M254.1 280.32h-2.7M32.5 276.95h2.7M254.1 276.95h-2.7M32.5 274.10h2.7M254.1 274.10h-2.7M32.5 271.63h2.7M254.1 271.63h-2.7M32.5 269.45h2.7M254.1 269.45h-2.7M32.5 267.50h5M254.1 267.50h-5M32.50 480.5v-5M32.50 267.5v5M103.26 480.5v-5M103.26 267.5v5M174.02 480.5v-5M174.02 267.5v5M244.77 480.5v-5M244.77 267.5v5" stroke="#000" stroke-width="1" fill="none"/>
<rect x="32.5" y="267.5" width="221.60" height="213.00" fill="none" stroke="#000" stroke-width="1.3"/>
<text transform="translate(29.10 487.40) scale(0.95 1)" text-anchor="end" font-size="10">10<tspan dx="0.2" dy="-4.9" font-size="7.6">0</tspan></text>
<text transform="translate(29.10 444.80) scale(0.95 1)" text-anchor="end" font-size="10">10<tspan dx="0.2" dy="-4.9" font-size="7.6">1</tspan></text>
<text transform="translate(29.10 402.20) scale(0.95 1)" text-anchor="end" font-size="10">10<tspan dx="0.2" dy="-4.9" font-size="7.6">2</tspan></text>
<text transform="translate(29.10 359.60) scale(0.95 1)" text-anchor="end" font-size="10">10<tspan dx="0.2" dy="-4.9" font-size="7.6">3</tspan></text>
<text transform="translate(29.10 317.00) scale(0.95 1)" text-anchor="end" font-size="10">10<tspan dx="0.2" dy="-4.9" font-size="7.6">4</tspan></text>
<text transform="translate(29.10 274.40) scale(0.95 1)" text-anchor="end" font-size="10">10<tspan dx="0.2" dy="-4.9" font-size="7.6">5</tspan></text>
<text transform="translate(32.50 492.80) scale(0.95 1)" text-anchor="middle" font-size="10">0</text>
<text transform="translate(103.26 492.80) scale(0.95 1)" text-anchor="middle" font-size="10">0.5</text>
<text transform="translate(174.02 492.80) scale(0.95 1)" text-anchor="middle" font-size="10">1</text>
<text transform="translate(244.77 492.80) scale(0.95 1)" text-anchor="middle" font-size="10">1.5</text>
<text x="143.60" y="505.60" text-anchor="middle" font-size="10.7">Total Fe/Al [mol:mol]</text>
<text transform="translate(11 375.00) rotate(-90)" text-anchor="middle" font-size="10.7">Total pFe [nmol kg<tspan dx="1" dy="-4.8" font-size="7.2">-1</tspan><tspan dx="2.6" dy="4.8">]</tspan></text>
<text x="1.4" y="265.80" font-size="18" font-weight="bold" style="fill:#000">c</text>
<path d="M306.4 480.50h5M529.0 480.50h-5M306.4 469.81h2.7M529.0 469.81h-2.7M306.4 463.56h2.7M529.0 463.56h-2.7M306.4 459.13h2.7M529.0 459.13h-2.7M306.4 455.69h2.7M529.0 455.69h-2.7M306.4 452.88h2.7M529.0 452.88h-2.7M306.4 450.50h2.7M529.0 450.50h-2.7M306.4 448.44h2.7M529.0 448.44h-2.7M306.4 446.62h2.7M529.0 446.62h-2.7M306.4 445.00h5M529.0 445.00h-5M306.4 434.31h2.7M529.0 434.31h-2.7M306.4 428.06h2.7M529.0 428.06h-2.7M306.4 423.63h2.7M529.0 423.63h-2.7M306.4 420.19h2.7M529.0 420.19h-2.7M306.4 417.38h2.7M529.0 417.38h-2.7M306.4 415.00h2.7M529.0 415.00h-2.7M306.4 412.94h2.7M529.0 412.94h-2.7M306.4 411.12h2.7M529.0 411.12h-2.7M306.4 409.50h5M529.0 409.50h-5M306.4 398.81h2.7M529.0 398.81h-2.7M306.4 392.56h2.7M529.0 392.56h-2.7M306.4 388.13h2.7M529.0 388.13h-2.7M306.4 384.69h2.7M529.0 384.69h-2.7M306.4 381.88h2.7M529.0 381.88h-2.7M306.4 379.50h2.7M529.0 379.50h-2.7M306.4 377.44h2.7M529.0 377.44h-2.7M306.4 375.62h2.7M529.0 375.62h-2.7M306.4 374.00h5M529.0 374.00h-5M306.4 363.31h2.7M529.0 363.31h-2.7M306.4 357.06h2.7M529.0 357.06h-2.7M306.4 352.63h2.7M529.0 352.63h-2.7M306.4 349.19h2.7M529.0 349.19h-2.7M306.4 346.38h2.7M529.0 346.38h-2.7M306.4 344.00h2.7M529.0 344.00h-2.7M306.4 341.94h2.7M529.0 341.94h-2.7M306.4 340.12h2.7M529.0 340.12h-2.7M306.4 338.50h5M529.0 338.50h-5M306.4 327.81h2.7M529.0 327.81h-2.7M306.4 321.56h2.7M529.0 321.56h-2.7M306.4 317.13h2.7M529.0 317.13h-2.7M306.4 313.69h2.7M529.0 313.69h-2.7M306.4 310.88h2.7M529.0 310.88h-2.7M306.4 308.50h2.7M529.0 308.50h-2.7M306.4 306.44h2.7M529.0 306.44h-2.7M306.4 304.62h2.7M529.0 304.62h-2.7M306.4 303.00h5M529.0 303.00h-5M306.4 292.31h2.7M529.0 292.31h-2.7M306.4 286.06h2.7M529.0 286.06h-2.7M306.4 281.63h2.7M529.0 281.63h-2.7M306.4 278.19h2.7M529.0 278.19h-2.7M306.4 275.38h2.7M529.0 275.38h-2.7M306.4 273.00h2.7M529.0 273.00h-2.7M306.4 270.94h2.7M529.0 270.94h-2.7M306.4 269.12h2.7M529.0 269.12h-2.7M306.4 267.50h5M529.0 267.50h-5M306.40 480.5v-5M306.40 267.5v5M377.20 480.5v-5M377.20 267.5v5M448.00 480.5v-5M448.00 267.5v5M518.80 480.5v-5M518.80 267.5v5" stroke="#000" stroke-width="1" fill="none"/>
<rect x="306.4" y="267.5" width="222.60" height="213.00" fill="none" stroke="#000" stroke-width="1.3"/>
<text transform="translate(303.00 487.40) scale(0.95 1)" text-anchor="end" font-size="10">10<tspan dx="0.2" dy="-4.9" font-size="7.6">-2</tspan></text>
<text transform="translate(303.00 451.90) scale(0.95 1)" text-anchor="end" font-size="10">10<tspan dx="0.2" dy="-4.9" font-size="7.6">-1</tspan></text>
<text transform="translate(303.00 416.40) scale(0.95 1)" text-anchor="end" font-size="10">10<tspan dx="0.2" dy="-4.9" font-size="7.6">0</tspan></text>
<text transform="translate(303.00 380.90) scale(0.95 1)" text-anchor="end" font-size="10">10<tspan dx="0.2" dy="-4.9" font-size="7.6">1</tspan></text>
<text transform="translate(303.00 345.40) scale(0.95 1)" text-anchor="end" font-size="10">10<tspan dx="0.2" dy="-4.9" font-size="7.6">2</tspan></text>
<text transform="translate(303.00 309.90) scale(0.95 1)" text-anchor="end" font-size="10">10<tspan dx="0.2" dy="-4.9" font-size="7.6">3</tspan></text>
<text transform="translate(303.00 274.40) scale(0.95 1)" text-anchor="end" font-size="10">10<tspan dx="0.2" dy="-4.9" font-size="7.6">4</tspan></text>
<text transform="translate(306.40 492.80) scale(0.95 1)" text-anchor="middle" font-size="10">0</text>
<text transform="translate(377.20 492.80) scale(0.95 1)" text-anchor="middle" font-size="10">0.5</text>
<text transform="translate(448.00 492.80) scale(0.95 1)" text-anchor="middle" font-size="10">1</text>
<text transform="translate(518.80 492.80) scale(0.95 1)" text-anchor="middle" font-size="10">1.5</text>
<text x="418.00" y="505.60" text-anchor="middle" font-size="10.7">Labile Fe/Al [mol:mol]</text>
<text transform="translate(282 375.00) rotate(-90)" text-anchor="middle" font-size="10.7">Labile pFe [nmol kg<tspan dx="1" dy="-4.8" font-size="7.2">-1</tspan><tspan dx="2.6" dy="4.8">]</tspan></text>
<text x="274.0" y="265.80" font-size="18" font-weight="bold" style="fill:#000">d</text>
<path d="M32.5 732.50h5M254.1 732.50h-5M32.5 719.71h2.7M254.1 719.71h-2.7M32.5 712.22h2.7M254.1 712.22h-2.7M32.5 706.91h2.7M254.1 706.91h-2.7M32.5 702.79h2.7M254.1 702.79h-2.7M32.5 699.43h2.7M254.1 699.43h-2.7M32.5 696.58h2.7M254.1 696.58h-2.7M32.5 694.12h2.7M254.1 694.12h-2.7M32.5 691.94h2.7M254.1 691.94h-2.7M32.5 690.00h5M254.1 690.00h-5M32.5 677.21h2.7M254.1 677.21h-2.7M32.5 669.72h2.7M254.1 669.72h-2.7M32.5 664.41h2.7M254.1 664.41h-2.7M32.5 660.29h2.7M254.1 660.29h-2.7M32.5 656.93h2.7M254.1 656.93h-2.7M32.5 654.08h2.7M254.1 654.08h-2.7M32.5 651.62h2.7M254.1 651.62h-2.7M32.5 649.44h2.7M254.1 649.44h-2.7M32.5 647.50h5M254.1 647.50h-5M32.5 634.71h2.7M254.1 634.71h-2.7M32.5 627.22h2.7M254.1 627.22h-2.7M32.5 621.91h2.7M254.1 621.91h-2.7M32.5 617.79h2.7M254.1 617.79h-2.7M32.5 614.43h2.7M254.1 614.43h-2.7M32.5 611.58h2.7M254.1 611.58h-2.7M32.5 609.12h2.7M254.1 609.12h-2.7M32.5 606.94h2.7M254.1 606.94h-2.7M32.5 605.00h5M254.1 605.00h-5M32.5 592.21h2.7M254.1 592.21h-2.7M32.5 584.72h2.7M254.1 584.72h-2.7M32.5 579.41h2.7M254.1 579.41h-2.7M32.5 575.29h2.7M254.1 575.29h-2.7M32.5 571.93h2.7M254.1 571.93h-2.7M32.5 569.08h2.7M254.1 569.08h-2.7M32.5 566.62h2.7M254.1 566.62h-2.7M32.5 564.44h2.7M254.1 564.44h-2.7M32.5 562.50h5M254.1 562.50h-5M32.5 549.71h2.7M254.1 549.71h-2.7M32.5 542.22h2.7M254.1 542.22h-2.7M32.5 536.91h2.7M254.1 536.91h-2.7M32.5 532.79h2.7M254.1 532.79h-2.7M32.5 529.43h2.7M254.1 529.43h-2.7M32.5 526.58h2.7M254.1 526.58h-2.7M32.5 524.12h2.7M254.1 524.12h-2.7M32.5 521.94h2.7M254.1 521.94h-2.7M32.5 520.00h5M254.1 520.00h-5M32.50 732.5v-5M32.50 520v5M76.82 732.5v-5M76.82 520v5M121.14 732.5v-5M121.14 520v5M165.46 732.5v-5M165.46 520v5M209.78 732.5v-5M209.78 520v5M254.10 732.5v-5M254.10 520v5" stroke="#000" stroke-width="1" fill="none"/>
<rect x="32.5" y="520" width="221.60" height="212.50" fill="none" stroke="#000" stroke-width="1.3"/>
<text transform="translate(29.10 739.40) scale(0.95 1)" text-anchor="end" font-size="10">10<tspan dx="0.2" dy="-4.9" font-size="7.6">0</tspan></text>
<text transform="translate(29.10 696.90) scale(0.95 1)" text-anchor="end" font-size="10">10<tspan dx="0.2" dy="-4.9" font-size="7.6">1</tspan></text>
<text transform="translate(29.10 654.40) scale(0.95 1)" text-anchor="end" font-size="10">10<tspan dx="0.2" dy="-4.9" font-size="7.6">2</tspan></text>
<text transform="translate(29.10 611.90) scale(0.95 1)" text-anchor="end" font-size="10">10<tspan dx="0.2" dy="-4.9" font-size="7.6">3</tspan></text>
<text transform="translate(29.10 569.40) scale(0.95 1)" text-anchor="end" font-size="10">10<tspan dx="0.2" dy="-4.9" font-size="7.6">4</tspan></text>
<text transform="translate(29.10 526.90) scale(0.95 1)" text-anchor="end" font-size="10">10<tspan dx="0.2" dy="-4.9" font-size="7.6">5</tspan></text>
<text transform="translate(32.50 744.80) scale(0.95 1)" text-anchor="middle" font-size="10">0</text>
<text transform="translate(76.82 744.80) scale(0.95 1)" text-anchor="middle" font-size="10">0.02</text>
<text transform="translate(121.14 744.80) scale(0.95 1)" text-anchor="middle" font-size="10">0.04</text>
<text transform="translate(165.46 744.80) scale(0.95 1)" text-anchor="middle" font-size="10">0.06</text>
<text transform="translate(209.78 744.80) scale(0.95 1)" text-anchor="middle" font-size="10">0.08</text>
<text transform="translate(254.10 744.80) scale(0.95 1)" text-anchor="middle" font-size="10">0.1</text>
<text x="143.60" y="757.60" text-anchor="middle" font-size="10.7">Total Mn/Fe [mol:mol]</text>
<text transform="translate(11 627.25) rotate(-90)" text-anchor="middle" font-size="10.7">Total pFe [nmol kg<tspan dx="1" dy="-4.8" font-size="7.2">-1</tspan><tspan dx="2.6" dy="4.8">]</tspan></text>
<text x="1.4" y="518.30" font-size="18" font-weight="bold" style="fill:#000">e</text>
<path d="M306.4 732.50h5M528.6 732.50h-5M306.4 721.84h2.7M528.6 721.84h-2.7M306.4 715.60h2.7M528.6 715.60h-2.7M306.4 711.18h2.7M528.6 711.18h-2.7M306.4 707.74h2.7M528.6 707.74h-2.7M306.4 704.94h2.7M528.6 704.94h-2.7M306.4 702.57h2.7M528.6 702.57h-2.7M306.4 700.52h2.7M528.6 700.52h-2.7M306.4 698.70h2.7M528.6 698.70h-2.7M306.4 697.08h5M528.6 697.08h-5M306.4 686.42h2.7M528.6 686.42h-2.7M306.4 680.19h2.7M528.6 680.19h-2.7M306.4 675.76h2.7M528.6 675.76h-2.7M306.4 672.33h2.7M528.6 672.33h-2.7M306.4 669.52h2.7M528.6 669.52h-2.7M306.4 667.15h2.7M528.6 667.15h-2.7M306.4 665.10h2.7M528.6 665.10h-2.7M306.4 663.29h2.7M528.6 663.29h-2.7M306.4 661.67h5M528.6 661.67h-5M306.4 651.01h2.7M528.6 651.01h-2.7M306.4 644.77h2.7M528.6 644.77h-2.7M306.4 640.34h2.7M528.6 640.34h-2.7M306.4 636.91h2.7M528.6 636.91h-2.7M306.4 634.11h2.7M528.6 634.11h-2.7M306.4 631.74h2.7M528.6 631.74h-2.7M306.4 629.68h2.7M528.6 629.68h-2.7M306.4 627.87h2.7M528.6 627.87h-2.7M306.4 626.25h5M528.6 626.25h-5M306.4 615.59h2.7M528.6 615.59h-2.7M306.4 609.35h2.7M528.6 609.35h-2.7M306.4 604.93h2.7M528.6 604.93h-2.7M306.4 601.49h2.7M528.6 601.49h-2.7M306.4 598.69h2.7M528.6 598.69h-2.7M306.4 596.32h2.7M528.6 596.32h-2.7M306.4 594.27h2.7M528.6 594.27h-2.7M306.4 592.45h2.7M528.6 592.45h-2.7M306.4 590.83h5M528.6 590.83h-5M306.4 580.17h2.7M528.6 580.17h-2.7M306.4 573.94h2.7M528.6 573.94h-2.7M306.4 569.51h2.7M528.6 569.51h-2.7M306.4 566.08h2.7M528.6 566.08h-2.7M306.4 563.27h2.7M528.6 563.27h-2.7M306.4 560.90h2.7M528.6 560.90h-2.7M306.4 558.85h2.7M528.6 558.85h-2.7M306.4 557.04h2.7M528.6 557.04h-2.7M306.4 555.42h5M528.6 555.42h-5M306.4 544.76h2.7M528.6 544.76h-2.7M306.4 538.52h2.7M528.6 538.52h-2.7M306.4 534.09h2.7M528.6 534.09h-2.7M306.4 530.66h2.7M528.6 530.66h-2.7M306.4 527.86h2.7M528.6 527.86h-2.7M306.4 525.49h2.7M528.6 525.49h-2.7M306.4 523.43h2.7M528.6 523.43h-2.7M306.4 521.62h2.7M528.6 521.62h-2.7M306.4 520.00h5M528.6 520.00h-5M306.40 732.5v-5M306.40 520v5M350.84 732.5v-5M350.84 520v5M395.28 732.5v-5M395.28 520v5M439.72 732.5v-5M439.72 520v5M484.16 732.5v-5M484.16 520v5M528.60 732.5v-5M528.60 520v5" stroke="#000" stroke-width="1" fill="none"/>
<rect x="306.4" y="520" width="222.20" height="212.50" fill="none" stroke="#000" stroke-width="1.3"/>
<text transform="translate(303.00 739.40) scale(0.95 1)" text-anchor="end" font-size="10">10<tspan dx="0.2" dy="-4.9" font-size="7.6">-2</tspan></text>
<text transform="translate(303.00 703.98) scale(0.95 1)" text-anchor="end" font-size="10">10<tspan dx="0.2" dy="-4.9" font-size="7.6">-1</tspan></text>
<text transform="translate(303.00 668.57) scale(0.95 1)" text-anchor="end" font-size="10">10<tspan dx="0.2" dy="-4.9" font-size="7.6">0</tspan></text>
<text transform="translate(303.00 633.15) scale(0.95 1)" text-anchor="end" font-size="10">10<tspan dx="0.2" dy="-4.9" font-size="7.6">1</tspan></text>
<text transform="translate(303.00 597.73) scale(0.95 1)" text-anchor="end" font-size="10">10<tspan dx="0.2" dy="-4.9" font-size="7.6">2</tspan></text>
<text transform="translate(303.00 562.32) scale(0.95 1)" text-anchor="end" font-size="10">10<tspan dx="0.2" dy="-4.9" font-size="7.6">3</tspan></text>
<text transform="translate(303.00 526.90) scale(0.95 1)" text-anchor="end" font-size="10">10<tspan dx="0.2" dy="-4.9" font-size="7.6">4</tspan></text>
<text transform="translate(306.40 744.80) scale(0.95 1)" text-anchor="middle" font-size="10">0</text>
<text transform="translate(350.84 744.80) scale(0.95 1)" text-anchor="middle" font-size="10">0.02</text>
<text transform="translate(395.28 744.80) scale(0.95 1)" text-anchor="middle" font-size="10">0.04</text>
<text transform="translate(439.72 744.80) scale(0.95 1)" text-anchor="middle" font-size="10">0.06</text>
<text transform="translate(484.16 744.80) scale(0.95 1)" text-anchor="middle" font-size="10">0.08</text>
<text transform="translate(528.60 744.80) scale(0.95 1)" text-anchor="middle" font-size="10">0.1</text>
<text x="417.80" y="757.60" text-anchor="middle" font-size="10.7">Labile Mn/Fe [mol:mol]</text>
<text transform="translate(282 627.25) rotate(-90)" text-anchor="middle" font-size="10.7">Labile pFe [nmol kg<tspan dx="1" dy="-4.8" font-size="7.2">-1</tspan><tspan dx="2.6" dy="4.8">]</tspan></text>
<text x="274.0" y="518.30" font-size="18" font-weight="bold" style="fill:#000">f</text>
<path d="M129.2 295.9V366.3H223.2M129.2 357.90h3M129.2 327.00h3M129.2 296.10h3M129.2 364.76h1.6M129.2 362.69h1.6M129.2 360.89h1.6M129.2 359.31h1.6M129.2 348.60h1.6M129.2 343.16h1.6M129.2 339.30h1.6M129.2 336.30h1.6M129.2 333.86h1.6M129.2 331.79h1.6M129.2 329.99h1.6M129.2 328.41h1.6M129.2 317.70h1.6M129.2 312.26h1.6M129.2 308.40h1.6M129.2 305.40h1.6M129.2 302.96h1.6M129.2 300.89h1.6M129.2 299.09h1.6M129.2 297.51h1.6M140.50 366.3v-3M163.20 366.3v-3M185.90 366.3v-3M208.60 366.3v-3" stroke="#000" stroke-width="0.9" fill="none"/>
<text x="126.90" y="362.00" text-anchor="end" font-size="6.0">10<tspan dy="-3.0" font-size="4.3">2</tspan></text>
<text x="126.90" y="331.10" text-anchor="end" font-size="6.0">10<tspan dy="-3.0" font-size="4.3">3</tspan></text>
<text x="126.90" y="300.20" text-anchor="end" font-size="6.0">10<tspan dy="-3.0" font-size="4.3">4</tspan></text>
<text x="140.50" y="373.8" text-anchor="middle" font-size="6">0.2</text>
<text x="163.20" y="373.8" text-anchor="middle" font-size="6">0.25</text>
<text x="185.90" y="373.8" text-anchor="middle" font-size="6">0.3</text>
<text x="208.60" y="373.8" text-anchor="middle" font-size="6">0.35</text>
<path d="M139.80 301.55L142.26 305.75L137.34 305.75Z" fill="#EE802C" stroke="#000" stroke-width="0.63" stroke-linejoin="miter"/>
<path d="M148.60 302.05L151.06 306.25L146.14 306.25Z" fill="#EE802C" stroke="#000" stroke-width="0.63" stroke-linejoin="miter"/>
<path d="M152.20 312.95L154.66 317.15L149.74 317.15Z" fill="#EE802C" stroke="#000" stroke-width="0.63" stroke-linejoin="miter"/>
<path d="M150.90 325.35L153.36 329.55L148.44 329.55Z" fill="#EE802C" stroke="#000" stroke-width="0.63" stroke-linejoin="miter"/>
<path d="M139.80 322.05L142.26 326.25L137.34 326.25Z" fill="#EE802C" stroke="#000" stroke-width="0.63" stroke-linejoin="miter"/>
<path d="M178.10 329.85L180.56 334.05L175.64 334.05Z" fill="#EE802C" stroke="#000" stroke-width="0.63" stroke-linejoin="miter"/>
<path d="M185.40 356.05L187.86 360.25L182.94 360.25Z" fill="#EE802C" stroke="#000" stroke-width="0.63" stroke-linejoin="miter"/>
<path d="M211.40 325.95L213.86 330.15L208.94 330.15Z" fill="#EE802C" stroke="#000" stroke-width="0.63" stroke-linejoin="miter"/>
<path d="M147.80 301.25L150.26 305.45L145.34 305.45Z" fill="#FCD5A8" stroke="#000" stroke-width="0.63" stroke-linejoin="miter"/>
<path d="M149.30 308.75L151.76 312.95L146.84 312.95Z" fill="#FCD5A8" stroke="#000" stroke-width="0.63" stroke-linejoin="miter"/>
<path d="M151.20 319.95L153.66 324.15L148.74 324.15Z" fill="#FCD5A8" stroke="#000" stroke-width="0.63" stroke-linejoin="miter"/>
<path d="M157.60 319.85L160.06 324.05L155.14 324.05Z" fill="#FCD5A8" stroke="#000" stroke-width="0.63" stroke-linejoin="miter"/>
<path d="M160.60 321.95L163.06 326.15L158.14 326.15Z" fill="#FCD5A8" stroke="#000" stroke-width="0.63" stroke-linejoin="miter"/>
<path d="M159.30 323.75L161.76 327.95L156.84 327.95Z" fill="#FCD5A8" stroke="#000" stroke-width="0.63" stroke-linejoin="miter"/>
<path d="M202.30 342.75L204.76 346.95L199.84 346.95Z" fill="#FCD5A8" stroke="#000" stroke-width="0.63" stroke-linejoin="miter"/>
<path d="M217.90 322.65L220.36 326.85L215.44 326.85Z" fill="#FCD5A8" stroke="#000" stroke-width="0.63" stroke-linejoin="miter"/>
<path d="M216.10 327.45L218.56 331.65L213.64 331.65Z" fill="#FCD5A8" stroke="#000" stroke-width="0.63" stroke-linejoin="miter"/>
<circle cx="149.50" cy="315.40" r="2.13" fill="#0A6E3E" stroke="#000" stroke-width="0.66"/>
<circle cx="151.30" cy="319.00" r="2.13" fill="#0A6E3E" stroke="#000" stroke-width="0.66"/>
<circle cx="153.10" cy="324.40" r="2.13" fill="#0A6E3E" stroke="#000" stroke-width="0.66"/>
<circle cx="162.20" cy="335.30" r="2.13" fill="#0A6E3E" stroke="#000" stroke-width="0.66"/>
<circle cx="174.00" cy="327.00" r="2.13" fill="#0A6E3E" stroke="#000" stroke-width="0.66"/>
<circle cx="184.50" cy="336.90" r="2.13" fill="#0A6E3E" stroke="#000" stroke-width="0.66"/>
<circle cx="194.80" cy="328.30" r="2.13" fill="#0A6E3E" stroke="#000" stroke-width="0.66"/>
<circle cx="201.30" cy="326.50" r="2.13" fill="#0A6E3E" stroke="#000" stroke-width="0.66"/>
<circle cx="194.20" cy="337.10" r="2.13" fill="#0A6E3E" stroke="#000" stroke-width="0.66"/>
<circle cx="139.90" cy="310.90" r="2.13" fill="#78BE64" stroke="#000" stroke-width="0.66"/>
<circle cx="150.00" cy="325.10" r="2.13" fill="#78BE64" stroke="#000" stroke-width="0.66"/>
<circle cx="174.60" cy="342.80" r="2.13" fill="#78BE64" stroke="#000" stroke-width="0.66"/>
<circle cx="191.40" cy="352.50" r="2.13" fill="#78BE64" stroke="#000" stroke-width="0.66"/>
<circle cx="194.40" cy="327.10" r="2.13" fill="#78BE64" stroke="#000" stroke-width="0.66"/>
<circle cx="197.20" cy="335.00" r="2.13" fill="#78BE64" stroke="#000" stroke-width="0.66"/>
<circle cx="199.90" cy="333.50" r="2.13" fill="#78BE64" stroke="#000" stroke-width="0.66"/>
<circle cx="198.70" cy="338.20" r="2.13" fill="#78BE64" stroke="#000" stroke-width="0.66"/>
<circle cx="214.90" cy="314.90" r="2.13" fill="#78BE64" stroke="#000" stroke-width="0.66"/>
<circle cx="213.80" cy="329.40" r="2.13" fill="#78BE64" stroke="#000" stroke-width="0.66"/>
<rect x="155.55" y="316.64" width="5.51" height="5.51" fill="#000"/>
<rect x="171.65" y="355.35" width="5.51" height="5.51" fill="#000"/>
<rect x="172.55" y="360.44" width="5.51" height="5.51" fill="#000"/>
<line x1="77" y1="8.4" x2="163" y2="8.4" stroke="#000" stroke-width="1.3"/>
<path d="M169 8.4L160 5.0L160 11.8Z" fill="#000"/>
<line x1="357.5" y1="7.9" x2="456.1" y2="7.9" stroke="#000" stroke-width="1.3"/>
<path d="M462.1 7.9L453.1 4.5L453.1 11.3Z" fill="#000"/>
<line x1="411.9" y1="538.9" x2="503.8" y2="538.9" stroke="#000" stroke-width="1.3"/>
<path d="M509.8 538.9L500.8 535.5L500.8 542.3Z" fill="#000"/>
<text x="124" y="5.0" text-anchor="middle" font-size="7">sediment sorting</text>
<text x="408" y="5.2" text-anchor="middle" font-size="7">Al-oxide enrichment</text>
<text x="459.2" y="535.8" text-anchor="middle" font-size="7">marine sediments</text>
<ellipse cx="414.9" cy="337.4" rx="23.9" ry="40" fill="none" stroke="#000" stroke-width="1.9" stroke-dasharray="3.6 2.4"/>
<text x="447.9" y="325.80" font-size="7">enhanced transport</text>
<text x="447.9" y="333.90" font-size="7">in subsurface</text>
<text x="447.9" y="342.00" font-size="7">plume/marine sed.</text>
<text x="447.9" y="350.10" font-size="7">resuspension</text>
<line x1="553" y1="581.2" x2="585.2" y2="581.2" stroke="#2020FF" stroke-width="1.7" stroke-dasharray="12 7.8"/>
<line x1="553" y1="593.9" x2="589.8" y2="593.9" stroke="#0000FF" stroke-width="2.3"/>
<text x="593.4" y="585.20" font-size="9.7">Cobble Northwestern</text>
<text x="593.4" y="598.05" font-size="9.7">Cobble Aialik</text>
<text x="593.4" y="610.90" font-size="9.7">Northwestern &gt;5 <tspan font-style="italic">µ</tspan>m</text>
<text x="593.4" y="623.75" font-size="9.7">Northwestern &lt;5 <tspan font-style="italic">µ</tspan>m</text>
<text x="593.4" y="636.60" font-size="9.7">Aialik &gt;5 <tspan font-style="italic">µ</tspan>m</text>
<text x="593.4" y="649.45" font-size="9.7">Aialik &lt;5 <tspan font-style="italic">µ</tspan>m</text>
<text x="593.4" y="662.30" font-size="9.7">iceberg &gt;10 <tspan font-style="italic">µ</tspan>m</text>
<text x="593.4" y="675.15" font-size="9.7">iceberg &lt;10 <tspan font-style="italic">µ</tspan>m</text>
<path d="M571.40 602.35L575.50 609.35L567.30 609.35Z" fill="#EE802C" stroke="#000" stroke-width="1.05" stroke-linejoin="miter"/>
<path d="M571.40 615.15L575.50 622.15L567.30 622.15Z" fill="#FCD5A8" stroke="#000" stroke-width="1.05" stroke-linejoin="miter"/>
<circle cx="571.40" cy="632.80" r="3.55" fill="#0A6E3E" stroke="#000" stroke-width="1.10"/>
<circle cx="571.40" cy="645.50" r="3.55" fill="#78BE64" stroke="#000" stroke-width="1.10"/>
<rect x="568.50" y="655.50" width="5.80" height="5.80" fill="#000"/>
<rect x="569.00" y="668.60" width="4.80" height="4.80" fill="#fff" stroke="#000" stroke-width="1.10"/>
</svg></body></html>
